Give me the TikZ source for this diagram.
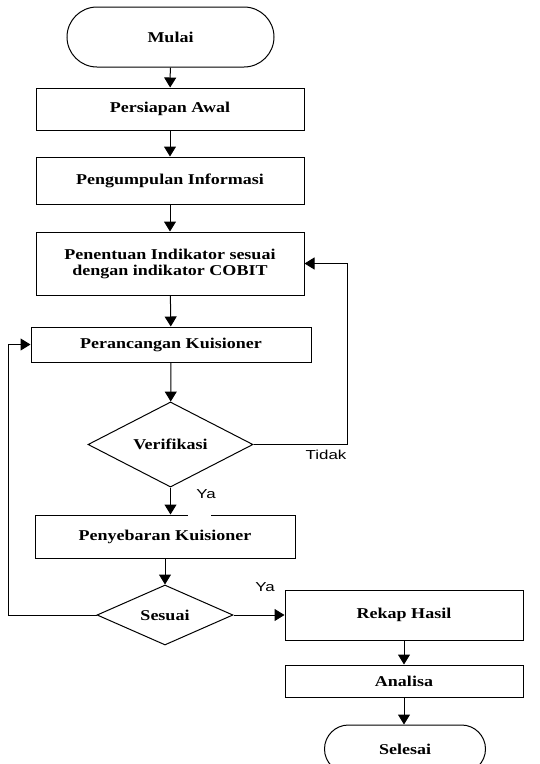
\documentclass[tikz,border=0pt]{standalone}
\usepackage{fontspec}
\setmainfont[FakeStretch=1.2]{Liberation Serif}
\newfontfamily\labelfont[FakeStretch=1.3]{Liberation Sans}
\usetikzlibrary{arrows.meta,shapes.geometric,shapes.misc}
\begin{document}
\begin{tikzpicture}[x=1pt,y=-1pt,
  box/.style={draw,rectangle,line width=1pt,inner sep=0pt,align=center,
    font=\fontsize{15}{16}\selectfont\bfseries},
  term/.style={draw,rounded rectangle,line width=1pt,inner sep=0pt,
    font=\fontsize{15}{16}\selectfont\bfseries},
  cond/.style={draw,diamond,line width=1pt,inner sep=0pt,
    font=\fontsize{15}{16}\selectfont\bfseries},
  arr/.style={-{Triangle[length=10pt,width=12pt]},line width=1pt},
  lbl/.style={font=\labelfont\fontsize{13}{15}\selectfont}]
\useasboundingbox (0,0) rectangle (540,764);
\node[term,minimum width=207pt,minimum height=60pt] (mulai) at (170.5,37) {Mulai};
\node[box,minimum width=268pt,minimum height=42pt] (persiapan) at (170,109) {Persiapan Awal};
\node[box,minimum width=268pt,minimum height=47pt] (pengumpulan) at (170,180.5) {Pengumpulan Informasi};
\node[box,minimum width=268pt,minimum height=63pt] (penentuan) at (170,263.5) {Penentuan Indikator sesuai\\dengan indikator COBIT};
\node[box,minimum width=280pt,minimum height=35pt] (perancangan) at (171,344.5) {Perancangan Kuisioner};
\node[cond,minimum width=165pt,minimum height=85pt] (verifikasi) at (170.5,444.5) {Verifikasi};
\node[box,minimum width=260pt,minimum height=43pt] (penyebaran) at (165,536.5) {Penyebaran Kuisioner};
\node[cond,minimum width=136pt,minimum height=60pt] (sesuai) at (165,615) {Sesuai};
\node[box,minimum width=238pt,minimum height=50pt] (rekap) at (404,615) {Rekap Hasil};
\node[box,minimum width=238pt,minimum height=32pt] (analisa) at (404,681) {Analisa};
\node[term,minimum width=161pt,minimum height=48pt] (selesai) at (405,749) {Selesai};
\fill[white] (188,513) rectangle (211,517);

\draw[arr] (mulai) -- (persiapan);
\draw[arr] (persiapan) -- (pengumpulan);
\draw[arr] (pengumpulan) -- (penentuan);
\draw[arr] (penentuan) -- (perancangan);
\draw[arr] (perancangan) -- (verifikasi);
\draw[arr] (verifikasi.south) -- (verifikasi.south |- penyebaran.north);
\draw[arr] (penyebaran) -- (sesuai);
\draw[arr] (sesuai) -- (rekap);
\draw[arr] (rekap) -- (analisa);
\draw[arr] (analisa) -- (analisa.south |- selesai.north);
\draw[arr] (verifikasi.east) -- ++(94,0) |- (penentuan.east);
\draw[arr] (sesuai.west) -- ++(-88,0) |- (perancangan.west);

\node[lbl] (tidak) at (326,455) {Tidak};
\node[lbl] (ya1) at (206,494) {Ya};
\node[lbl] (ya2) at (265,587) {Ya};
\end{tikzpicture}
\end{document}
